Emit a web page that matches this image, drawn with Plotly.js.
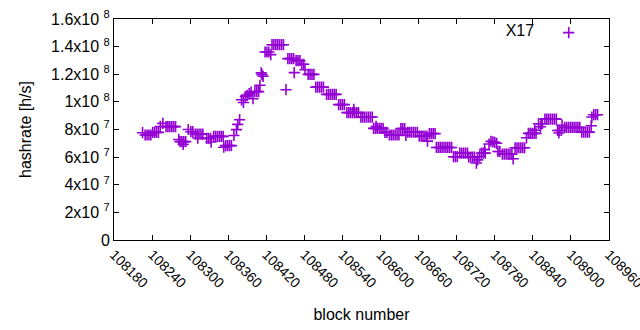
<!DOCTYPE html>
<html>
<head>
<meta charset="utf-8">
<script src="https://cdn.plot.ly/plotly-3.0.1.min.js"></script>
<style>html,body{margin:0;padding:0;background:#fff}#chart{width:640px;height:330px}</style>
</head>
<body>
<div id="chart"></div>
<script>
const seriesName = "X17";
const blocks = [
108225,108229,108232,108235,108238,108241,108244,108247,108250,108253,108257,
108262,108265,108268,108271,108274,108277,108282,108284,108287,108289,108290,108293,
108297,108301,108304,108308,108311,108312,108314,108317,108320,108326,108329,108332,108333,
108337,108340,108343,108346,108349,108352,108353,108356,108359,108362,108365,
108369,108373,108375,108378,108381,108384,108387,108390,108393,108396,108399,
108402,108405,108408,108410,108412,108413,108415,108418,108421,108424,108427,
108429,108432,108435,108438,108441,108444,108447,108451,108454,108457,108460,108463,108464,
108467,108470,108473,108476,108479,108481,108486,108489,108492,108495,
108498,108501,108504,108507,108510,108515,108518,108521,108524,108527,108530,
108534,108537,108540,108543,108547,108550,108553,108556,108558,108559,108562,108565,
108569,108572,108575,108578,108581,108584,108587,108589,108592,108593,108595,108598,108601,108604,
108607,108610,108614,108617,108620,108623,108626,108629,108632,108635,108638,108640,
108643,108646,108649,108652,108655,108658,108661,108664,108667,108670,108673,108674,
108677,108680,108683,108686,108688,108691,108694,108697,108700,108703,108706,108709,108712,
108715,108718,108721,108725,108728,108731,108734,108737,108739,108742,108745,108748,
108751,108753,108756,108759,108762,108764,108765,108771,108774,108777,108780,108783,
108785,108788,108792,108795,108798,108801,108804,108807,108809,
108812,108815,108818,108821,108824,108827,108830,108833,108836,108839,108842,108843,108845,
108849,108852,108853,108855,108859,108862,108865,108868,108871,108874,108877,
108879,108881,108882,108885,108886,108890,108893,108896,108899,108902,108905,108908,108911,108914,
108917,108920,108923,108926,108929,108932,108933,108936,108939,108942
];
const hashrate = [
7.77e7,7.6e7,7.6e7,7.6e7,7.6e7,7.79e7,7.79e7,7.79e7,7.79e7,8.22e7,8.44e7,
8.21e7,8.21e7,8.21e7,8.21e7,8.21e7,8.21e7,7.28e7,7.12e7,7.12e7,6.92e7,7.12e7,7.12e7,
8.0e7,7.84e7,7.84e7,7.67e7,7.67e7,7.38e7,7.67e7,7.67e7,7.67e7,7.36e7,7.36e7,7.36e7,7.09e7,
7.5e7,7.5e7,7.5e7,7.5e7,7.5e7,7.5e7,6.72e7,6.83e7,6.83e7,6.83e7,6.83e7,
7.57e7,7.99e7,8.37e7,8.71e7,10.15e7,9.96e7,10.4e7,10.47e7,10.6e7,10.7e7,10.23e7,
10.74e7,10.74e7,10.74e7,11.2e7,12.1e7,11.97e7,11.85e7,13.61e7,13.61e7,13.61e7,13.42e7,
14.14e7,14.14e7,14.14e7,14.14e7,14.14e7,14.14e7,14.14e7,10.88e7,13.13e7,13.13e7,13.13e7,13.13e7,12.12e7,
12.98e7,12.98e7,12.98e7,12.72e7,12.72e7,12.33e7,11.99e7,11.99e7,11.99e7,11.99e7,
11.07e7,11.07e7,11.07e7,11.07e7,11.07e7,10.54e7,10.54e7,10.54e7,10.54e7,10.54e7,10.54e7,
9.8e7,9.8e7,9.8e7,9.8e7,9.22e7,9.22e7,9.22e7,9.22e7,9.45e7,9.22e7,9.22e7,9.22e7,
8.9e7,8.9e7,8.9e7,8.9e7,8.9e7,8.9e7,8.9e7,8.08e7,8.08e7,8.22e7,8.08e7,8.08e7,8.08e7,8.08e7,
7.79e7,7.79e7,7.6e7,7.6e7,7.6e7,7.6e7,7.6e7,7.6e7,8.06e7,8.06e7,8.06e7,7.57e7,
7.8e7,7.8e7,7.8e7,7.8e7,7.8e7,7.8e7,7.52e7,7.52e7,7.52e7,7.52e7,7.52e7,7.16e7,
7.7e7,7.7e7,7.7e7,7.7e7,6.7e7,6.7e7,6.7e7,6.7e7,6.7e7,6.7e7,6.7e7,6.7e7,6.7e7,
6.03e7,6.03e7,6.03e7,6.29e7,6.29e7,6.29e7,6.29e7,6.29e7,6.0e7,6.0e7,6.0e7,6.0e7,
5.57e7,5.8e7,6.05e7,6.29e7,6.29e7,6.54e7,6.29e7,6.95e7,7.15e7,7.1e7,7.07e7,7.0e7,
6.41e7,6.41e7,6.22e7,6.22e7,6.22e7,6.22e7,6.22e7,6.22e7,5.88e7,
6.68e7,6.68e7,6.68e7,6.68e7,6.68e7,6.68e7,7.4e7,7.72e7,7.72e7,7.72e7,7.72e7,7.95e7,7.72e7,
8.42e7,8.2e7,8.42e7,8.42e7,8.75e7,8.75e7,8.75e7,8.75e7,8.75e7,8.75e7,8.75e7,
7.93e7,7.75e7,7.93e7,7.93e7,8.3e7,8.15e7,8.15e7,8.15e7,8.15e7,8.15e7,8.15e7,8.15e7,8.15e7,8.15e7,
7.81e7,7.81e7,7.81e7,7.81e7,7.81e7,8.27e7,8.9e7,9.07e7,9.07e7,9.07e7
];
const xTicks = [108180,108240,108300,108360,108420,108480,108540,108600,108660,108720,108780,108840,108900,108960];
const yTicks = [0,2e7,4e7,6e7,8e7,1e8,1.2e8,1.4e8,1.6e8];
const yTickText = ["0","2x10\u00a0<sup>7</sup>","4x10\u00a0<sup>7</sup>","6x10\u00a0<sup>7</sup>","8x10\u00a0<sup>7</sup>",
  "1x10\u00a0<sup>8</sup>","1.2x10\u00a0<sup>8</sup>","1.4x10\u00a0<sup>8</sup>","1.6x10\u00a0<sup>8</sup>"];

const fam = "Liberation Sans, Arial, sans-serif";
const font = {family: fam, size: 16, color: "#000"};
const xTickFont = {family: fam, size: 14, color: "#000"};
const yTickFont = {family: fam, size: 16, color: "#000"};
const trace = {
  x: blocks, y: hashrate, type: "scatter", mode: "markers", name: "",
  marker: {symbol: "cross-thin", size: 8, color: "#9400d3", line: {color: "#9400d3", width: 1.6}}
};
const axisCommon = {showline: true, mirror: "allticks", linecolor: "#000", linewidth: 1,
  ticks: "inside", ticklen: 5, tickwidth: 1, tickcolor: "#000", showgrid: false, zeroline: false,
  ticklabeloverflow: "allow"};
const layout = {
  width: 640, height: 330,
  margin: {l: 114, r: 31, t: 19, b: 90},
  paper_bgcolor: "#fff", plot_bgcolor: "#fff",
  font: font,
  showlegend: true,
  legend: {x: 0.971, xanchor: "right", y: 1.015, yanchor: "top", bgcolor: "rgba(0,0,0,0)",
    indentation: 6.5, valign: "middle",
    title: {text: seriesName, side: "left", font: font}, font: font},
  xaxis: Object.assign({}, axisCommon, {
    range: [108180, 108960], tickmode: "array", tickvals: xTicks, ticktext: xTicks.map(String),
    tickangle: 45, automargin: false, ticklabelshift: 6.5, ticklabelstandoff: 3.5, tickfont: xTickFont,
    title: {text: "block number", font: font, standoff: 18}
  }),
  yaxis: Object.assign({}, axisCommon, {
    range: [0, 1.6e8], tickmode: "array", tickvals: yTicks, ticktext: yTickText,
    automargin: false, ticklabelstandoff: 8.5, tickfont: yTickFont,
    title: {text: "hashrate [h/s]", font: font, standoff: 15}
  })
};
Plotly.newPlot("chart", [trace], layout, {staticPlot: true, displayModeBar: false});
</script>
</body>
</html>
